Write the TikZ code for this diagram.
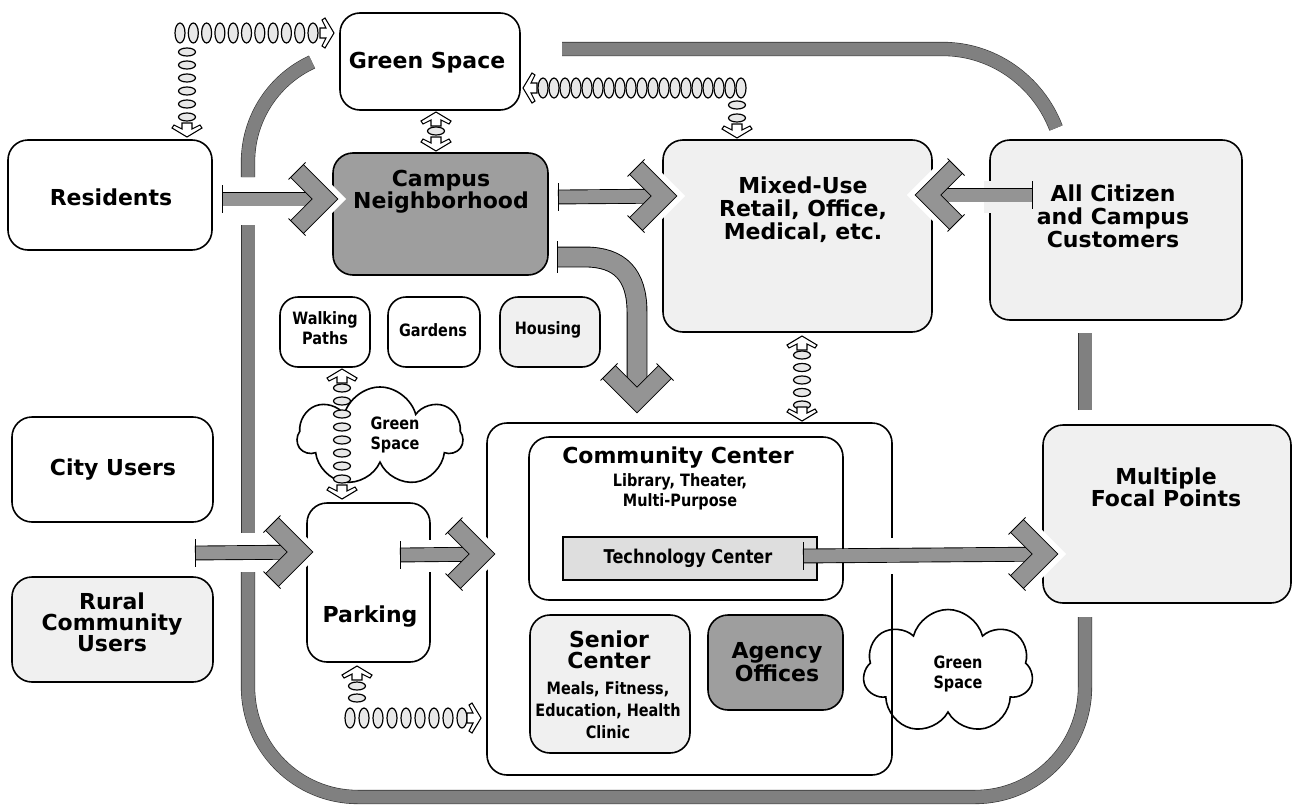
\documentclass[tikz,border=0pt]{standalone}
\usepackage{fontspec}
\setmainfont{DejaVu Sans}
\newfontfamily\narrowfont[FakeStretch=0.85]{DejaVu Sans}
\usetikzlibrary{calc, shapes.symbols}

\newcommand{\bigtxt}{\bfseries\fontsize{22}{21}\selectfont}
\newcommand{\smalltxt}{\narrowfont\bfseries\fontsize{17}{20}\selectfont}
\newcommand{\looseTxt}{\narrowfont\bfseries\fontsize{17}{22}\selectfont}

\tikzset{
  box/.style={draw, line width=1.6pt, rounded corners=20pt, fill=white},
  litebox/.style={box, fill=black!6},
  darkbox/.style={box, fill=black!38},
  band/.style={draw=black!80, line width=0.6pt, double=black!50, double distance=13pt},
  shaft/.style={draw=black, line width=0.9pt, double=black!42, double distance=13pt, shorten >=18pt},
  coil/.style={draw, line width=1.2pt, fill=black!9},
  chevhalo/.pic={\draw[white, line width=30pt, line join=miter] (-41,28) -- (-13,0) -- (-41,-28);},
  chev/.pic={
    \draw[draw=black, line width=0.9pt, double=black!42, double distance=17pt, line join=miter] (-41,28) -- (-13,0) -- (-41,-28);
    \draw[line width=0.9pt] (-32.5,36.5) -- (-49.5,19.5) (-32.5,-36.5) -- (-49.5,-19.5);
  },
  shead/.pic={\draw[line width=1.1pt, fill=white] (0,0) -- (-9,15) -- (-12,13) -- (-8,5) -- (-14,5) -- (-14,-5) -- (-8,-5) -- (-12,-13) -- (-9,-15) -- cycle;}
}

\begin{document}
\begin{tikzpicture}[x=1pt, y=-1pt]
\useasboundingbox (0,0) rectangle (1293,811);

% outer band round the campus
\draw[band] (562,49) -- (943,49) .. controls (993,49) and (1038,81) .. (1056,128);
\draw[band] (312,62) .. controls (273,80) and (248,119) .. (248,162) -- (248,177);
\draw[band] (248,225) -- (248,533);
\draw[band, rounded corners=110pt] (248,572) -- (248,797) -- (1085,797) -- (1085,617);
\draw[band] (1085,410) -- (1085,333);

% boxes
\node[box, minimum width=180pt, minimum height=97pt] (greenbox) at (430,61.5) {};
\node[box, minimum width=204pt, minimum height=110pt] (residents) at (110,195) {};
\node[darkbox, minimum width=215pt, minimum height=122pt] (campus) at (440.5,214) {};
\node[litebox, minimum width=269pt, minimum height=192pt] (mixed) at (797.5,236) {};
\node[litebox, minimum width=252pt, minimum height=180pt] (citizen) at (1116,230) {};
\node[box, rounded corners=18pt, minimum width=90pt, minimum height=70pt] (walking) at (325,332) {};
\node[box, rounded corners=18pt, minimum width=92pt, minimum height=70pt] (gardens) at (434,332) {};
\node[litebox, rounded corners=18pt, minimum width=100pt, minimum height=70pt] (housing) at (550,332) {};
\node[box, minimum width=201pt, minimum height=105pt] (city) at (112.5,469.5) {};
\node[litebox, minimum width=201pt, minimum height=105pt] (rural) at (112.5,629.5) {};
\node[box, minimum width=123pt, minimum height=159pt] (parking) at (368.5,582.5) {};
\node[box, minimum width=405pt, minimum height=352pt] (commbox) at (689.5,599) {};
\node[box, minimum width=314pt, minimum height=163pt] (commcenter) at (686,518.5) {};
\node[draw, line width=1.6pt, fill=black!13, minimum width=254pt, minimum height=43pt] (tech) at (690,558.5) {};
\node[litebox, minimum width=160pt, minimum height=138pt] (senior) at (610,684) {};
\node[darkbox, minimum width=135pt, minimum height=95pt] (agency) at (775.5,662.5) {};
\node[litebox, minimum width=248pt, minimum height=178pt] (focal) at (1167,514) {};
\node[draw, line width=1.6pt, fill=white, cloud, cloud puffs=7, aspect=1.6, minimum width=165pt, minimum height=100pt] (greenleft) at (380,437) {};
\node[draw, line width=1.6pt, cloud, cloud puffs=7, aspect=1.4, minimum width=170pt, minimum height=125pt] (greenright) at (948,672) {};

% labels
\node[font=\bigtxt] (greenbox-t) at (427,63) {Green Space};
\node[font=\bigtxt] (residents-t) at (111,197) {Residents};
\node[font=\bigtxt, align=center] (campus-t) at (441,192) {Campus\\Neighborhood};
\node[font=\bigtxt, align=center] (mixed-t) at (803,210) {Mixed-Use\\[2pt]Retail, Office,\\[2pt]Medical, etc.};
\node[font=\bigtxt, align=center] (citizen-t) at (1113,216) {All Citizen\\[2pt]and Campus\\[2pt]Customers};
\node[font=\smalltxt, align=center] (walking-t) at (325,328) {Walking\\Paths};
\node[font=\smalltxt] (gardens-t) at (433,330) {Gardens};
\node[font=\smalltxt] (housing-t) at (548,330) {Housing};
\node[font=\smalltxt, align=center] (greenleft-t) at (395,435) {Green\\Space};
\node[font=\bigtxt] (city-t) at (113,470) {City Users};
\node[font=\bigtxt, align=center] (rural-t) at (112,622) {Rural\\Community\\Users};
\node[font=\bigtxt] (parking-t) at (370,617) {Parking};
\node[font=\bigtxt] (commcenter-t) at (678,458) {Community Center};
\node[font=\smalltxt, align=center] (commcenter-s) at (680,492) {Library, Theater,\\Multi-Purpose};
\node[font=\narrowfont\bfseries\fontsize{19}{20}\selectfont] (tech-t) at (688,558) {Technology Center};
\node[font=\bigtxt, align=center] (senior-t) at (609,650) {Senior\\Center};
\node[font=\looseTxt, align=center] (senior-s) at (608,710) {Meals, Fitness,\\Education, Health\\Clinic};
\node[font=\bigtxt, align=center] (agency-t) at (777,662) {Agency\\Offices};
\node[font=\bigtxt, align=center] (focal-t) at (1166,487) {Multiple\\Focal Points};
\node[font=\smalltxt, align=center] (greenright-t) at (958,674) {Green\\Space};

% big arrows
\coordinate (a1s) at (222,199); \coordinate (a1t) at (338,199);
\coordinate (a2s) at (558,197); \coordinate (a2t) at (677,196);
\coordinate (a3s) at (1032,195); \coordinate (a3t) at (915,195);
\coordinate (a4s) at (557,257); \coordinate (a4t) at (637,413);
\coordinate (a5s) at (195,553); \coordinate (a5t) at (313,552);
\coordinate (a6s) at (400,555); \coordinate (a6t) at (495,554);
\coordinate (a7s) at (803,556); \coordinate (a7t) at (1058,554);

\fill[white] (424,540) rectangle (437,572);
\fill[black!6] (984,181) rectangle (996,213);
\fill[white] (885,538) rectangle (899,574);
\foreach \t/\r in {a1t/0, a2t/0, a3t/180, a4t/-90, a5t/0, a6t/0, a7t/0}
  \pic[rotate=\r] at (\t) {chevhalo};

\foreach \s/\t in {a1s/a1t, a2s/a2t, a3s/a3t, a5s/a5t, a6s/a6t, a7s/a7t}
  \draw[shaft] (\s) -- (\t);
\draw[shaft, double distance=19pt] (a4s) -- (585,257) .. controls (620,257) and (637,275) .. (637,312) -- (a4t);
\foreach \s in {a1s, a2s, a3s, a5s, a6s, a7s}
  \draw[line width=0.9pt] (\s) ++(0,-14) -- ++(0,28);
\draw[line width=0.9pt] (a4s) ++(0,-16) -- ++(0,32);

\foreach \t/\r in {a1t/0, a2t/0, a3t/180, a4t/-90, a5t/0, a6t/0, a7t/0}
  \pic[rotate=\r] at (\t) {chev};

% springs
\foreach \i in {0,...,10} \draw[coil] (180+13.3*\i,33) ellipse [x radius=5pt, y radius=10pt];
\foreach \i in {0,...,5} \draw[coil] (187,52+13*\i) ellipse [x radius=8.5pt, y radius=4pt];
\pic at (334,33) {shead};
\pic[rotate=-90] at (187,137) {shead};

\foreach \i in {0,...,18} \draw[coil] (543+11*\i,88) ellipse [x radius=5pt, y radius=10pt];
\foreach \y in {105,118} \draw[coil] (737,\y) ellipse [x radius=8.5pt, y radius=4pt];
\pic[rotate=180] at (523,88) {shead};
\pic[rotate=-90] at (737,138) {shead};

\draw[coil] (436,131) ellipse [x radius=8.5pt, y radius=4pt];
\pic[rotate=90] at (436,112) {shead};
\pic[rotate=-90] at (436,151) {shead};

\foreach \i in {0,...,7} \draw[coil] (342,388+13*\i) ellipse [x radius=8.5pt, y radius=4pt];
\pic[rotate=90] at (342,369) {shead};
\pic[rotate=-90] at (342,499) {shead};

\foreach \y in {686,698} \draw[coil] (357,\y) ellipse [x radius=8.5pt, y radius=4pt];
\foreach \i in {0,...,8} \draw[coil] (350+14*\i,718) ellipse [x radius=5pt, y radius=10pt];
\pic[rotate=90] at (357,666) {shead};
\pic at (481,718) {shead};

\foreach \i in {0,...,4} \draw[coil] (802,355+12.5*\i) ellipse [x radius=8.5pt, y radius=4pt];
\pic[rotate=90] at (802,336) {shead};
\pic[rotate=-90] at (802,421) {shead};
\end{tikzpicture}
\end{document}
